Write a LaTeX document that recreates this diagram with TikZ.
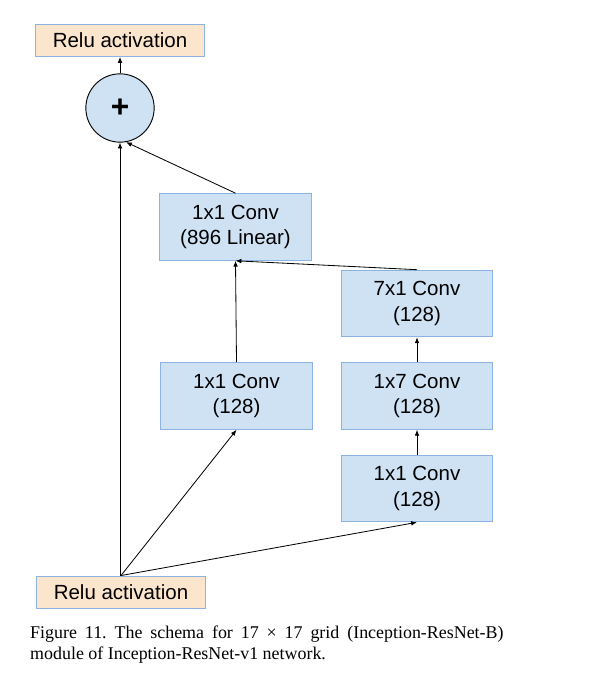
\documentclass[tikz,border=0pt]{standalone}
\usepackage{fontspec}
\setmainfont{Liberation Sans}
\newfontfamily\captionfont{Liberation Serif}
\usepackage{tikz}
\usetikzlibrary{arrows.meta}
\definecolor{convfill}{HTML}{CFE2F3}
\definecolor{relufill}{HTML}{FCE5CD}
\definecolor{boxline}{HTML}{8DB3E2}
\frenchspacing

\begin{document}
\begin{tikzpicture}[x=0.03cm,y=-0.03cm,
    font=\fontsize{17.5}{22}\selectfont,
    >={Latex[length=5pt,width=4pt]},
    convbox/.style={draw=boxline,line width=0.8pt,fill=convfill,align=center,
      minimum width=4.54cm,minimum height=2.0cm,inner sep=0pt},
    relubox/.style={draw=boxline,line width=0.8pt,fill=relufill,
      minimum width=5.07cm,minimum height=0.96cm,inner sep=0pt},
    link/.style={->,line width=0.7pt}]
  \useasboundingbox (0,0) rectangle (590,678);
  \node[relubox] (reluout) at (120,40.5) {Relu activation};
  \node[circle,draw,line width=0.8pt,fill=convfill,minimum size=2.05cm,inner sep=0pt]
    (plus) at (120,108) {\textbf{\fontsize{27}{27}\selectfont +}};
  \node[convbox] (linear) at (235.5,227) {1x1 Conv\\(896 Linear)};
  \node[convbox] (convsev) at (417,303.5) {7x1 Conv\\(128)};
  \node[convbox] (convleft) at (236.5,396) {1x1 Conv\\(128)};
  \node[convbox] (convmid) at (417,396) {1x7 Conv\\(128)};
  \node[convbox] (convright) at (417,488.5) {1x1 Conv\\(128)};
  \node[relubox] (reluin) at (121,592) {Relu activation};
  % connectors
  \draw[link] (plus.north) -- (reluout.south);
  \draw[link] (reluin.north -| plus.south) -- (plus.south);
  \draw[link] (reluin.north) -- (convleft.south);
  \draw[link] (reluin.north) -- (convright.south);
  \draw[link] (convright.north) -- (convmid.south);
  \draw[link] (convmid.north) -- (convsev.south);
  \draw[link] (convsev.north) -- (linear.south);
  \draw[link] (convleft.north) -- (linear.south);
  \draw[link] (linear.north) -- (plus.-80);
  % caption
  \node[anchor=north west,text width=14.2cm,align=justify,inner sep=0pt,
    font=\captionfont\fontsize{15.3}{17.6}\selectfont] (caption) at (30,626)
    {Figure 11. The schema for 17 × 17 grid (Inception-ResNet-B)\linebreak
     module of Inception-ResNet-v1 network.};
\end{tikzpicture}
\end{document}
